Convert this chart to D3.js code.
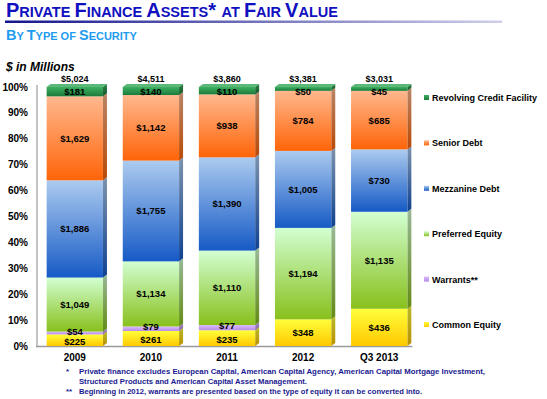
<!DOCTYPE html>
<html>
<head>
<meta charset="utf-8">
<script src="https://cdn.jsdelivr.net/npm/d3@7"></script>
<style>
  body { margin: 0; background: #fff; }
  svg { font-family: Arial, "Liberation Sans", sans-serif; display: block; }
</style>
</head>
<body>
<div id="chart"></div>
<script>
// data, in $ millions
var periods = ["2009", "2010", "2011", "2012", "Q3 2013"];
var commonEquity = [225, 261, 235, 348, 436];
var warrants = [54, 79, 77, 0, 0];
var preferredEquity = [1049, 1134, 1110, 1194, 1135];
var mezzanineDebt = [1886, 1755, 1390, 1005, 730];
var seniorDebt = [1629, 1142, 938, 784, 685];
var revolving = [181, 140, 110, 50, 45];
var totals = [5024, 4511, 3860, 3381, 3031];
var yTicks = [0, 0.1, 0.2, 0.3, 0.4, 0.5, 0.6, 0.7, 0.8, 0.9, 1];

var seriesNames = ["Common Equity", "Warrants**", "Preferred Equity", "Mezzanine Debt", "Senior Debt", "Revolving Credit Facility"];
var seriesValues = [commonEquity, warrants, preferredEquity, mezzanineDebt, seniorDebt, revolving];
// top / bottom colours of each segment gradient
var seriesColors = [
  ["#ffff3a", "#ffc800"],
  ["#ddb8ff", "#b68ee6"],
  ["#d2ffd2", "#88c01c"],
  ["#accbef", "#165ac6"],
  ["#ffb88e", "#ff6408"],
  ["#3cb060", "#1c7a3a"]
];

var width = 547, height = 399;
var svg = d3.select("#chart").append("svg")
  .attr("width", width)
  .attr("height", height);
var defs = svg.append("defs");

// title
var title = svg.append("text").attr("x", 6).attr("y", 17)
  .attr("fill", "#1010c0").attr("font-weight", "bold");
[["P", 20], ["RIVATE ", 14.5], ["F", 20], ["INANCE ", 14.5], ["A", 20], ["SSETS", 14.5], ["* ", 20], ["AT ", 14.5], ["F", 20], ["AIR ", 14.5], ["V", 20], ["ALUE", 14.5]]
  .forEach(function(p) { title.append("tspan").attr("font-size", p[1]).text(p[0]); });

var lineGrad = defs.append("linearGradient").attr("id", "titleLine");
lineGrad.append("stop").attr("offset", "0%").attr("stop-color", "#14148c");
lineGrad.append("stop").attr("offset", "100%").attr("stop-color", "#cfcfea");
svg.append("rect").attr("x", 5).attr("y", 20.5).attr("width", 497).attr("height", 2.5)
  .attr("fill", "url(#titleLine)");

var sub = svg.append("text").attr("x", 6).attr("y", 40)
  .attr("fill", "#1e9cf0").attr("font-weight", "bold");
[["B", 14.5], ["Y ", 11], ["T", 14.5], ["YPE OF ", 11], ["S", 14.5], ["ECURITY", 11]]
  .forEach(function(p) { sub.append("tspan").attr("font-size", p[1]).text(p[0]); });

svg.append("text").attr("x", 6).attr("y", 71)
  .attr("font-size", 12).attr("font-weight", "bold").attr("font-style", "italic")
  .text("$ in Millions");

// scales
var x = d3.scaleBand().domain(periods).range([36, 418]).paddingInner(0.26).paddingOuter(0.14);
var y = d3.scaleLinear().domain([0, 1]).range([346, 87]);
var dx = 4, dy = 3;

// gradients
seriesColors.forEach(function(c, i) {
  var g = defs.append("linearGradient").attr("id", "front" + i)
    .attr("x1", 0).attr("y1", 0).attr("x2", 0).attr("y2", 1);
  g.append("stop").attr("offset", "0%").attr("stop-color", c[0]);
  g.append("stop").attr("offset", "100%").attr("stop-color", c[1]);
  var s = defs.append("linearGradient").attr("id", "side" + i)
    .attr("x1", 0).attr("y1", 0).attr("x2", 0).attr("y2", 1);
  s.append("stop").attr("offset", "0%").attr("stop-color", d3.color(c[0]).darker(0.9));
  s.append("stop").attr("offset", "100%").attr("stop-color", d3.color(c[1]).darker(0.9));
});

// axes lines
svg.append("line").attr("x1", 37).attr("x2", 37).attr("y1", y(1) - 2).attr("y2", y(0))
  .attr("stroke", "#c4c4c4").attr("stroke-width", 2);
svg.append("line").attr("x1", 36).attr("x2", x(periods[4]) + x.bandwidth() + dx + 1)
  .attr("y1", y(0) + 0.5).attr("y2", y(0) + 0.5)
  .attr("stroke", "#9a9a9a").attr("stroke-width", 1.5);

svg.append("g").selectAll("text").data(yTicks).join("text")
  .attr("x", 28).attr("y", function(d) { return y(d) + 3.5; })
  .attr("text-anchor", "end").attr("font-size", 10).attr("font-weight", "bold")
  .text(d3.format(".0%"));

// stacked segments
var segs = [];
periods.forEach(function(p, j) {
  var acc = 0;
  seriesValues.forEach(function(vals, i) {
    var v = vals[j];
    if (v > 0) {
      segs.push({ p: p, i: i, v: v, y0: acc / totals[j], y1: (acc + v) / totals[j] });
    }
    acc += v;
  });
});

var bars = svg.append("g");
segs.forEach(function(s) {
  var x0 = x(s.p), x1 = x0 + x.bandwidth();
  var top = y(s.y1), bot = y(s.y0);
  bars.append("polygon")
    .attr("points", [[x1, bot], [x1 + dx, bot - dy], [x1 + dx, top - dy], [x1, top]].join(" "))
    .attr("fill", "url(#side" + s.i + ")");
  bars.append("rect")
    .attr("x", x0).attr("y", top).attr("width", x.bandwidth()).attr("height", bot - top)
    .attr("fill", "url(#front" + s.i + ")");
  if (s.y1 >= 0.9999) {
    bars.append("polygon")
      .attr("points", [[x0, top], [x0 + dx, top - dy], [x1 + dx, top - dy], [x1, top]].join(" "))
      .attr("fill", "#5cb878");
  }
});

bars.selectAll("text.seg").data(segs).join("text")
  .attr("class", "seg")
  .attr("x", function(d) { return x(d.p) + x.bandwidth() / 2; })
  .attr("y", function(d) {
    var yy = (y(d.y0) + y(d.y1)) / 2 + 3.5;
    if (d.i === 1) yy -= 2;
    if (d.i === 0 && d.v < 300) yy += 1;
    if (d.i === 5) yy = Math.max(yy, 94.5);
    return yy;
  })
  .attr("text-anchor", "middle").attr("font-size", 9.5).attr("font-weight", "bold")
  .text(function(d) { return "$" + d3.format(",")(d.v); });

// totals
svg.append("g").selectAll("text").data(totals).join("text")
  .attr("x", function(d, j) { return x(periods[j]) + x.bandwidth() / 2; })
  .attr("y", 82)
  .attr("text-anchor", "middle").attr("font-size", 9).attr("font-weight", "bold")
  .text(function(d) { return "$" + d3.format(",")(d); });

// x labels
svg.append("g").selectAll("text").data(periods).join("text")
  .attr("x", function(d) { return x(d) + x.bandwidth() / 2; })
  .attr("y", 361)
  .attr("text-anchor", "middle").attr("font-size", 10).attr("font-weight", "bold")
  .text(function(d) { return d; });

// legend
var legendY = d3.scalePoint().domain(seriesNames.slice().reverse()).range([98, 325]);
var legend = svg.append("g").selectAll("g").data(seriesNames).join("g")
  .attr("transform", function(d) { return "translate(424," + legendY(d) + ")"; });
legend.append("rect").attr("x", 0).attr("y", -3).attr("width", 5).attr("height", 5)
  .attr("fill", function(d, i) { return "url(#front" + i + ")"; });
legend.append("text").attr("x", 8).attr("y", 3)
  .attr("font-size", 9).attr("font-weight", "bold")
  .text(function(d) { return d; });

// footnotes
var notes = [
  ["*", "Private finance excludes European Capital, American Capital Agency, American Capital Mortgage Investment,", 374, 406],
  ["", "Structured Products and American Capital Asset Management.", 384, 228],
  ["**", "Beginning in 2012, warrants are presented based on the type of equity it can be converted into.", 394, 343]
];
var fn = svg.append("g").attr("fill", "#1a1a90").attr("font-size", 7.8).attr("font-weight", "bold");
notes.forEach(function(n) {
  fn.append("text").attr("x", 66).attr("y", n[2]).text(n[0]);
  fn.append("text").attr("x", 79).attr("y", n[2]).attr("textLength", n[3])
    .attr("lengthAdjust", "spacingAndGlyphs").text(n[1]);
});
</script>
</body>
</html>
